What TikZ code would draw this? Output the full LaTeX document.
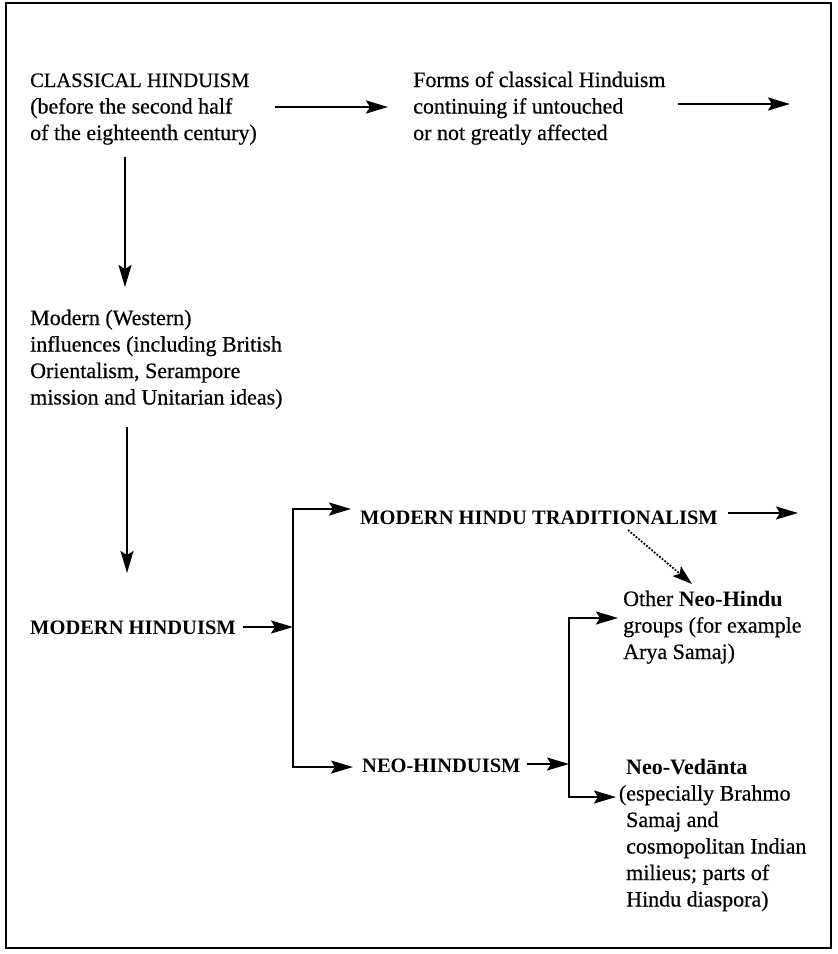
\documentclass[tikz,border=0pt]{standalone}
\usepackage{fontspec}
\setmainfont{Liberation Serif}[UprightFeatures={FakeBold=0.5}]
\usetikzlibrary{arrows.meta}
\begin{document}
\begin{tikzpicture}[x=1pt,y=-1pt,
  txt/.style={anchor=base west, inner sep=0pt, font=\fontsize{22}{26.5}\selectfont},
  caps/.style={txt, font=\fontsize{20.5}{26}\selectfont\bfseries},
  conn/.style={line width=2.1pt},
  arr/.style={conn, -{Stealth[length=22pt,width=13pt,inset=4pt]}},
  dblarr/.style={conn, {Stealth[length=22pt,width=13pt,inset=4pt]}-{Stealth[length=22pt,width=13pt,inset=4pt]}},
  dotarr/.style={line width=1.8pt, dash pattern=on 1.8pt off 1.6pt, -{Stealth[length=20pt,width=13pt,inset=4pt,line width=0pt]}},
  frame/.style={line width=1.6pt}]
\useasboundingbox (0,0) rectangle (838,954);
\draw[frame] (6,3) rectangle (831,948);

% texts
\node[txt] (classical) at (30,87) {\begin{tabular}[t]{@{}l@{}}{\fontsize{20.5}{26}\selectfont CLASSICAL HINDUISM}\\(before the second half\\of the eighteenth century)\end{tabular}};
\node[txt] (forms) at (413,87) {\begin{tabular}[t]{@{}l@{}}Forms of classical Hinduism\\continuing if untouched\\or not greatly affected\end{tabular}};
\node[txt] (western) at (30,325) {\begin{tabular}[t]{@{}l@{}}Modern (Western)\\influences (including British\\Orientalism, Serampore\\mission and Unitarian ideas)\end{tabular}};
\node[caps] (modern) at (30,634) {MODERN HINDUISM};
\node[caps] (trad) at (360,524) {MODERN HINDU TRADITIONALISM};
\node[caps] (neo) at (362,772) {NEO-HINDUISM};
\node[txt] (other) at (623,606) {\begin{tabular}[t]{@{}l@{}}Other \textbf{Neo-Hindu}\\groups (for example\\Arya Samaj)\end{tabular}};
\node[txt] (vedanta) at (626,774) {\begin{tabular}[t]{@{}l@{}}\textbf{Neo-Vedānta}\\\llap{(}especially Brahmo\\Samaj and\\cosmopolitan Indian\\milieus; parts of\\Hindu diaspora)\end{tabular}};

% connector end points
\coordinate (c1s) at (275,107); \coordinate (c1e) at (388,107);
\coordinate (c2s) at (678,104); \coordinate (c2e) at (790,104);
\coordinate (v1s) at (125,157); \coordinate (v1e) at (125,287);
\coordinate (v2s) at (127,427); \coordinate (v2e) at (127,573);
\coordinate (m1s) at (243,627); \coordinate (b1mid) at (293,627);
\coordinate (b1top) at (293,509); \coordinate (b1topend) at (351,509);
\coordinate (b1bot) at (293,767); \coordinate (b1botend) at (353,767);
\coordinate (t1s) at (728,513); \coordinate (t1e) at (798,513);
\coordinate (n1s) at (527,764); \coordinate (b2mid) at (569,764);
\coordinate (b2top) at (569,618); \coordinate (b2topend) at (618,618);
\coordinate (b2bot) at (569,797); \coordinate (b2botend) at (616,797);
\coordinate (ds) at (628,530); \coordinate (de) at (692,584);

% connectors
\draw[arr] (c1s) -- (c1e);
\draw[arr] (c2s) -- (c2e);
\draw[arr] (v1s) -- (v1e);
\draw[arr] (v2s) -- (v2e);
\draw[arr] (m1s) -- (b1mid);
\draw[dblarr] (b1topend) -- (b1top) -- (b1bot) -- (b1botend);
\draw[arr] (t1s) -- (t1e);
\draw[arr] (n1s) -- (b2mid);
\draw[dblarr] (b2topend) -- (b2top) -- (b2bot) -- (b2botend);
\draw[dotarr] (ds) -- (de);
\end{tikzpicture}
\end{document}
